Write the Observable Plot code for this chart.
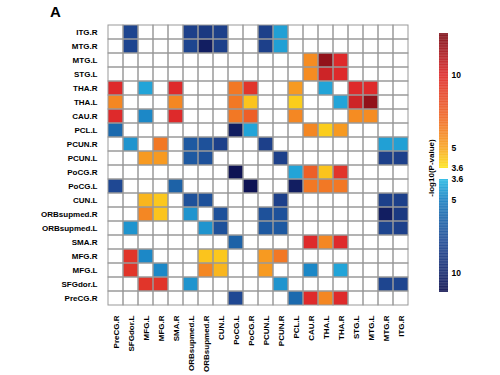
<!DOCTYPE html>
<html>
<head>
<meta charset="utf-8">
<script src="https://cdn.jsdelivr.net/npm/d3@7"></script>
<script src="https://cdn.jsdelivr.net/npm/@observablehq/plot@0.6"></script>
<style>
  body { margin: 0; background: white; }
  #wrap { position: relative; width: 500px; height: 375px; font-family: "Liberation Sans", Arial, sans-serif; }
  #wrap svg { position: absolute; }
  #panel { position: absolute; left: 50px; top: 3px; font-size: 15px; font-weight: bold; }
  #ltitle { position: absolute; left: 431px; top: 168px; transform: translate(-50%, -50%) rotate(-90deg); font-size: 8px; font-weight: bold; white-space: nowrap; }
</style>
</head>
<body>
<div id="wrap"></div>
<script>
// Row order (top to bottom)
const rowNames = ["ITG.R","MTG.R","MTG.L","STG.L","THA.R","THA.L","CAU.R","PCL.L","PCUN.R","PCUN.L",
  "PoCG.R","PoCG.L","CUN.L","ORBsupmed.R","ORBsupmed.L","SMA.R","MFG.R","MFG.L","SFGdor.L","PreCG.R"];
// Column order (left to right)
const colNames = ["PreCG.R","SFGdor.L","MFG.L","MFG.R","SMA.R","ORBsupmed.L","ORBsupmed.R","CUN.L","PoCG.L","PoCG.R",
  "PCUN.L","PCUN.R","PCL.L","CAU.R","THA.L","THA.R","STG.L","MTG.L","MTG.R","ITG.R"];

// Warm links (positive), -log10(P)
const positiveLinks = [
  ["MTG.L","CAU.R",5.8],["MTG.L","THA.L",12.2],["MTG.L","THA.R",10],
  ["STG.L","CAU.R",5.8],["STG.L","THA.L",10.5],["STG.L","THA.R",10],
  ["THA.R","PreCG.R",10],["THA.R","SMA.R",10],["THA.R","PoCG.L",6.5],["THA.R","PoCG.R",9.5],["THA.R","PCL.L",5.3],
  ["THA.L","PreCG.R",6],["THA.L","SMA.R",6],["THA.L","PoCG.L",6.5],["THA.L","PoCG.R",4.3],["THA.L","PCL.L",4.1],
  ["CAU.R","PreCG.R",10],["CAU.R","SMA.R",10],["CAU.R","PoCG.L",6.5],["CAU.R","PoCG.R",7.5],["CAU.R","PCL.L",6],
  ["PCUN.R","MFG.R",6.5],["PCUN.L","MFG.L",5.3],["PCUN.L","MFG.R",5.3],
  ["CUN.L","MFG.L",4.6],["CUN.L","MFG.R",4.2],
  ["ORBsupmed.R","MFG.L",6],["ORBsupmed.R","MFG.R",4.3],
  ["MFG.R","SFGdor.L",9.5],["MFG.L","SFGdor.L",9.5]
];
// Blue links (negative), -log10(P)
const negativeLinks = [
  ["ITG.R","SFGdor.L",8.2],["ITG.R","ORBsupmed.L",8.5],["ITG.R","ORBsupmed.R",9],["ITG.R","CUN.L",8.5],["ITG.R","PCUN.L",8.5],["ITG.R","PCUN.R",4.2],
  ["MTG.R","SFGdor.L",8.2],["MTG.R","ORBsupmed.L",8.2],["MTG.R","ORBsupmed.R",10.5],["MTG.R","CUN.L",8.5],["MTG.R","PCUN.L",8.5],["MTG.R","PCUN.R",4.2],
  ["THA.R","MFG.L",4.1],["THA.R","THA.L",4.1],["CAU.R","MFG.L",4.8],
  ["PCL.L","PreCG.R",6],["PCL.L","PoCG.L",10.5],["PCL.L","PoCG.R",4.1],
  ["PCUN.R","SFGdor.L",4.5],["PCUN.R","ORBsupmed.L",7],["PCUN.R","ORBsupmed.R",7.5],["PCUN.R","CUN.L",8.5],["PCUN.R","PCUN.L",8.5],
  ["PCUN.L","ORBsupmed.L",7],["PCUN.L","ORBsupmed.R",7.5],
  ["PoCG.R","PoCG.L",11],["PoCG.L","PreCG.R",8],["PoCG.L","SMA.R",6.5],
  ["CUN.L","ORBsupmed.L",7.5],["CUN.L","ORBsupmed.R",7.5],
  ["ORBsupmed.R","ORBsupmed.L",4.5],["ORBsupmed.L","SFGdor.L",4.5],["MFG.R","MFG.L",4.8]
];
const legendTicks = [3.6, 5, 10];

const cells = [];
for (const [a,b,v] of positiveLinks) { cells.push({row:a,col:b,v:v}); cells.push({row:b,col:a,v:v}); }
for (const [a,b,v] of negativeLinks) { cells.push({row:a,col:b,v:-v}); cells.push({row:b,col:a,v:-v}); }
const grid = d3.cross(colNames, rowNames).map(([c,r]) => ({col:c,row:r}));

const colorScale = {
  type: "linear",
  interpolate: "rgb",
  domain: [-11.3, -10, -8, -6, -5, -3.6, 3.6, 5, 7, 10, 12.9],
  range: ["#0b0d4c","#16296e","#1f4893","#1c6aae","#1a80c2","#27b8e4","#fde41a","#f8a320","#f06a26","#de2a2b","#7a0a14"]
};
const font = {fontFamily: "'Liberation Sans', Arial, sans-serif", fontSize: "8px", fontWeight: "bold", background: "none"};
const legendFont = {...font, fontSize: "8.5px"};

const main = Plot.plot({
  width: 500, height: 375,
  marginLeft: 102, marginRight: 87, marginTop: 17, marginBottom: 63,
  style: font,
  x: {domain: colNames, padding: 0, label: null, tickRotate: -90, tickSize: 0, tickPadding: 3},
  y: {domain: rowNames, padding: 0, label: null, tickSize: 0, tickPadding: 5},
  color: colorScale,
  marks: [
    Plot.cell(grid, {x: "col", y: "row", fill: "white", inset: 0}),
    Plot.cell(cells, {x: "col", y: "row", fill: "v", inset: 0}),
    Plot.cell(grid, {x: "col", y: "row", fill: "none", stroke: "#999", strokeWidth: 1, inset: 0})
  ]
});

const warmRamp = d3.range(3.6, 12.9, 0.05);
const blueRamp = d3.range(3.6, 11.3, 0.05);

const warmLegend = Plot.plot({
  width: 80, height: 375,
  marginLeft: 19, marginRight: 52, marginTop: 33, marginBottom: 207,
  style: legendFont,
  y: {domain: [3.6, 12.9], label: null},
  color: colorScale,
  marks: [
    Plot.rect(warmRamp, {y1: d => d, y2: d => Math.min(12.9, d + 0.06), fill: d => d, inset: 0}),
    Plot.axisY(legendTicks, {anchor: "right", tickSize: 0, tickPadding: 3, label: null, tickFormat: d => String(d)})
  ]
});
const blueLegend = Plot.plot({
  width: 80, height: 375,
  marginLeft: 19, marginRight: 52, marginTop: 179, marginBottom: 83,
  style: legendFont,
  y: {domain: [3.6, 11.3], reverse: true, label: null},
  color: colorScale,
  marks: [
    Plot.rect(blueRamp, {y1: d => d, y2: d => Math.min(11.3, d + 0.06), fill: d => -d, inset: 0}),
    Plot.axisY(legendTicks, {anchor: "right", tickSize: 0, tickPadding: 3, label: null, tickFormat: d => String(d)})
  ]
});

const wrap = document.getElementById("wrap");
main.style.left = "0px"; main.style.top = "0px";
warmLegend.style.left = "420px"; warmLegend.style.top = "0px";
blueLegend.style.left = "420px"; blueLegend.style.top = "0px";
wrap.appendChild(main);
wrap.appendChild(warmLegend);
wrap.appendChild(blueLegend);
const panel = document.createElement("div"); panel.id = "panel"; panel.textContent = "A"; wrap.appendChild(panel);
const lt = document.createElement("div"); lt.id = "ltitle"; lt.textContent = "-log10(P-value)"; wrap.appendChild(lt);
</script>
</body>
</html>
